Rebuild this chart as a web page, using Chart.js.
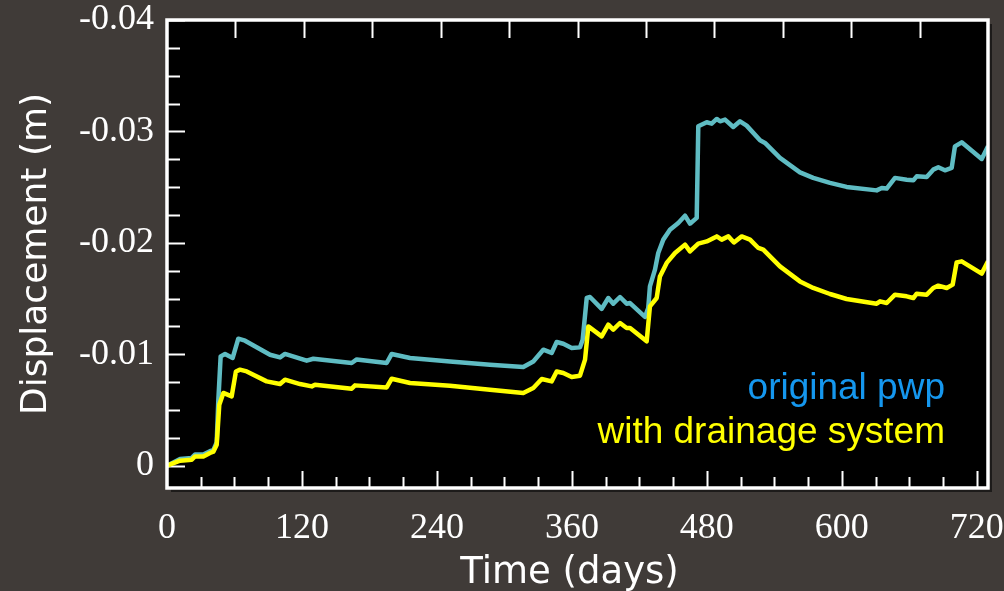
<!DOCTYPE html>
<html>
<head>
<meta charset="utf-8">
<script src="https://cdn.jsdelivr.net/npm/chart.js@4.4.1/dist/chart.umd.min.js"></script>
<style>
  html, body { margin: 0; padding: 0; background: #403b38; }
  canvas { display: block; }
</style>
</head>
<body>
<canvas id="c" width="1004" height="591"></canvas>
<script>
// ---- data (days, displacement in m) ----
const originalDays = [0, 11.6, 22, 24.9, 32.3, 38.2, 41.2, 44.2, 45.6, 47.7, 51.6, 58.4, 63.4, 69.4, 91.6, 100.5, 104.9, 124.2, 130.1, 164.2, 168.7, 195.3, 199.8, 216.1, 251.6, 287.2, 316.8, 325.7, 334.6, 342.0, 346.5, 352.4, 359.8, 367.2, 369.6, 373.2, 376.1, 386.5, 392.4, 396.8, 402.8, 408.7, 411.7, 425.0, 427.9, 429.4, 433.9, 436.8, 441.3, 447.2, 454.6, 460.6, 465.0, 471.0, 472.4, 479.9, 484.3, 488.8, 491.7, 496.2, 503.5, 509.5, 515.4, 527.3, 531.7, 545.0, 562.8, 574.6, 589.5, 604.3, 631.0, 635.5, 639.9, 647.3, 657.7, 663.6, 666.6, 675.5, 681.3, 685.8, 691.7, 697.7, 700.6, 706.6, 724.4, 730];
const originalDisp = [0, -0.0006, -0.0007, -0.0010, -0.0010, -0.0013, -0.0014, -0.0021, -0.00577, -0.00981, -0.01003, -0.00967, -0.0114, -0.01122, -0.00996, -0.00972, -0.01003, -0.00943, -0.0096, -0.00922, -0.00954, -0.00922, -0.01003, -0.00967, -0.00936, -0.00907, -0.00886, -0.00936, -0.01041, -0.01012, -0.0111, -0.01095, -0.01057, -0.01062, -0.01131, -0.01505, -0.01514, -0.01407, -0.01505, -0.01454, -0.01514, -0.01454, -0.0146, -0.01335, -0.01416, -0.0161, -0.0176, -0.01909, -0.02029, -0.02118, -0.02179, -0.02244, -0.02172, -0.02224, -0.03046, -0.03082, -0.0307, -0.03112, -0.03091, -0.03106, -0.0304, -0.03091, -0.03052, -0.0292, -0.02897, -0.02762, -0.02633, -0.02583, -0.02538, -0.02502, -0.02471, -0.02493, -0.02487, -0.02583, -0.02567, -0.02561, -0.02597, -0.02592, -0.02657, -0.02678, -0.02651, -0.02672, -0.02866, -0.02902, -0.02753, -0.02866];

const drainageDays = [0, 11.6, 22, 24.9, 32.3, 38.2, 41.2, 44.2, 46.5, 50.1, 57.5, 61.3, 64.9, 70.9, 88.6, 100.5, 104.9, 118.3, 128.7, 131.6, 164.2, 167.2, 195.3, 199.8, 216.1, 251.6, 287.2, 316.8, 325.7, 333.2, 342.0, 346.5, 352.4, 359.8, 367.2, 371.7, 374.6, 386.5, 392.4, 396.8, 402.8, 408.7, 411.7, 426.5, 429.4, 435.4, 438.3, 444.3, 451.7, 460.6, 465.0, 472.4, 479.9, 488.8, 493.2, 499.1, 504.1, 511.0, 518.4, 525.8, 530.2, 545.0, 562.8, 574.6, 589.5, 604.3, 631.0, 634.0, 639.9, 647.3, 657.7, 663.6, 666.6, 675.5, 681.3, 685.8, 693.3, 698.6, 702.1, 706.6, 724.4, 730];
const drainageDisp = [0, -0.00045, -0.00054, -0.00083, -0.00083, -0.00114, -0.00126, -0.00189, -0.00548, -0.00653, -0.00622, -0.00846, -0.00862, -0.00846, -0.00757, -0.00733, -0.00772, -0.00733, -0.00712, -0.00727, -0.00691, -0.00721, -0.00703, -0.00781, -0.00742, -0.00718, -0.00682, -0.00653, -0.00697, -0.00778, -0.00757, -0.00846, -0.00832, -0.00796, -0.00808, -0.00952, -0.0125, -0.01161, -0.01266, -0.01221, -0.01281, -0.01236, -0.01236, -0.01116, -0.0143, -0.01505, -0.01699, -0.0182, -0.01909, -0.01984, -0.01924, -0.01993, -0.02013, -0.02058, -0.02029, -0.02058, -0.02004, -0.02058, -0.02029, -0.01954, -0.01939, -0.01789, -0.01654, -0.01595, -0.01541, -0.01496, -0.01454, -0.01475, -0.0146, -0.01535, -0.0152, -0.01505, -0.01544, -0.01535, -0.01595, -0.01616, -0.01595, -0.01625, -0.01825, -0.01834, -0.01724, -0.01834];

const seriesLabels = ['original pwp', 'with drainage system'];
const xTitle = 'Time (days)';
const yTitle = 'Displacement (m)';
const xTickValues = [0, 120, 240, 360, 480, 600, 720];
const yTickValues = [0, -0.01, -0.02, -0.03, -0.04];
const yTickLabels = ['0', '-0.01', '-0.02', '-0.03', '-0.04'];

// ---- styles ----
const BG = '#403b38';
const TEAL = '#5fbcc3';
const YELLOW = '#ffff00';
const LEGEND_BLUE = '#1597ee';

const toPts = (xs, ys) => xs.map((x, i) => ({ x: x, y: ys[i] }));

const framePlugin = {
  id: 'frame',
  beforeDraw(chart) {
    const { ctx, chartArea: a } = chart;
    ctx.save();
    ctx.fillStyle = BG;
    ctx.fillRect(0, 0, chart.width, chart.height);
    ctx.fillStyle = '#1d1b1a';
    ctx.fillRect(a.left + 4, a.top + 4, a.right - a.left, a.bottom - a.top);
    ctx.fillStyle = '#000000';
    ctx.fillRect(a.left, a.top, a.right - a.left, a.bottom - a.top);
    ctx.restore();
  },
  beforeDatasetsDraw(chart) {
    const { ctx, chartArea: a, scales } = chart;
    const xs = scales.x, ys = scales.y;
    ctx.save();
    ctx.strokeStyle = '#ffffff';
    ctx.lineWidth = 2;
    ctx.beginPath();
    // bottom ticks (inward)
    for (let d = 30; d <= 720; d += 30) {
      const px = Math.round(xs.getPixelForValue(d)) + 0.5;
      const len = d % 120 === 0 ? 17 : 11;
      ctx.moveTo(px, a.bottom);
      ctx.lineTo(px, a.bottom - len);
    }
    // top ticks (every 2 months)
    for (let k = 1; k <= 11; k++) {
      const px = Math.round(xs.getPixelForValue(k * 730 / 12)) + 0.5;
      ctx.moveTo(px, a.top);
      ctx.lineTo(px, a.top + 18);
    }
    // left ticks
    for (let i = 0; i <= 16; i++) {
      const v = -0.0025 * i;
      const py = Math.round(ys.getPixelForValue(v)) + 0.5;
      const len = i % 4 === 0 ? 18 : 13;
      ctx.moveTo(a.left, py);
      ctx.lineTo(a.left + len, py);
    }
    ctx.stroke();
    ctx.restore();
  },
  afterDatasetsDraw(chart) {
    const { ctx, chartArea: a } = chart;
    ctx.save();
    ctx.strokeStyle = '#ffffff';
    ctx.lineWidth = 3.5;
    ctx.strokeRect(a.left, a.top, a.right - a.left, a.bottom - a.top);
    // legend text
    ctx.font = '37px "Liberation Sans", Arial, sans-serif';
    ctx.textAlign = 'right';
    ctx.textBaseline = 'alphabetic';
    ctx.fillStyle = LEGEND_BLUE;
    ctx.fillText(seriesLabels[0], a.right - 43, 399);
    ctx.fillStyle = YELLOW;
    ctx.fillText(seriesLabels[1], a.right - 43, 443);
    // x axis title
    ctx.fillStyle = '#ffffff';
    ctx.font = '37px "DejaVu Sans", sans-serif';
    ctx.textAlign = 'center';
    ctx.fillText(xTitle, (a.left + a.right) / 2 - 8, 583);
    ctx.restore();
  }
};

new Chart(document.getElementById('c'), {
  type: 'scatter',
  data: {
    datasets: [
      {
        label: seriesLabels[1],
        data: toPts(drainageDays, drainageDisp),
        showLine: true,
        borderColor: YELLOW,
        backgroundColor: YELLOW,
        borderWidth: 4.5,
        pointRadius: 0,
        tension: 0,
        borderJoinStyle: 'round'
      },
      {
        label: seriesLabels[0],
        data: toPts(originalDays, originalDisp),
        showLine: true,
        borderColor: TEAL,
        backgroundColor: TEAL,
        borderWidth: 4.5,
        pointRadius: 0,
        tension: 0,
        borderJoinStyle: 'round'
      }
    ]
  },
  options: {
    responsive: false,
    animation: false,
    devicePixelRatio: 1,
    layout: { padding: { top: 20, right: 16, left: 0, bottom: 0 } },
    plugins: { legend: { display: false }, tooltip: { enabled: false } },
    scales: {
      x: {
        type: 'linear',
        min: 0,
        max: 730,
        afterBuildTicks: s => { s.ticks = xTickValues.map(v => ({ value: v })); },
        afterFit: s => { s.height = 103; s.paddingLeft = 0; s.paddingRight = 0; },
        grid: { display: false, drawTicks: false },
        border: { display: false },
        ticks: {
          color: '#ffffff',
          font: { family: '"Liberation Serif", "Times New Roman", serif', size: 36 },
          padding: 19,
          maxRotation: 0,
          autoSkip: false,
          callback: v => String(v)
        },
        title: { display: false }
      },
      y: {
        type: 'linear',
        min: -0.04,
        max: 0.002,
        reverse: true,
        afterBuildTicks: s => { s.ticks = yTickValues.map(v => ({ value: v })); },
        afterFit: s => { s.width = 167; s.paddingTop = 0; s.paddingBottom = 0; },
        grid: { display: false, drawTicks: false },
        border: { display: false },
        ticks: {
          color: '#ffffff',
          font: { family: '"Liberation Serif", "Times New Roman", serif', size: 36 },
          padding: 13,
          autoSkip: false,
          callback: (v, i) => yTickLabels[i]
        },
        title: {
          display: true,
          text: yTitle,
          color: '#ffffff',
          font: { family: '"DejaVu Sans", sans-serif', size: 36 },
          padding: { top: 15, bottom: 0 }
        }
      }
    }
  },
  plugins: [framePlugin]
});
</script>
</body>
</html>
